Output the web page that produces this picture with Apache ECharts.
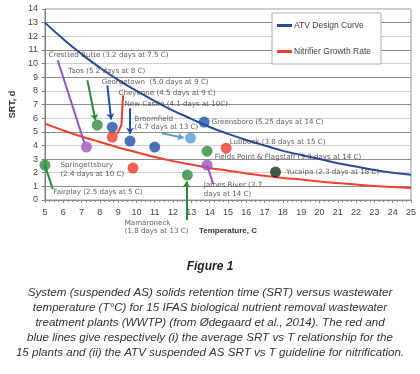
<!DOCTYPE html>
<html>
<head>
<meta charset="utf-8">
<script src="https://cdn.jsdelivr.net/npm/echarts@6/dist/echarts.min.js"></script>
<style>
  html, body { margin: 0; padding: 0; background: #fff; }
  #chart { width: 420px; height: 374px; }
</style>
</head>
<body>
<div id="chart"></div>
<script>
// curves at each whole degree
const temps = [5, 6, 7, 8, 9, 10, 11, 12, 13, 14, 15, 16, 17, 18, 19, 20, 21, 22, 23, 24, 25]
const atvCurve = [13.0, 11.8, 10.7, 9.7, 8.8, 8.0, 7.25, 6.55, 5.95, 5.35, 4.85, 4.4, 4.0, 3.6, 3.3, 3.0, 2.7, 2.45, 2.2, 2.0, 1.85]
const nitrifierCurve = [5.6, 5.1, 4.65, 4.25, 3.85, 3.5, 3.15, 2.85, 2.6, 2.35, 2.15, 1.95, 1.78, 1.62, 1.5, 1.36, 1.24, 1.13, 1.03, 0.95, 0.88]

// plants (temperature, SRT)
const plantNames = ['Fairplay', 'Crested Butte', 'Taos', 'Georgetown', 'Cheyenne', 'New Castle', 'Springettsbury', 'Unlabelled',
  'Broomfield', 'Mamaroneck', 'Greensboro', 'Fields Point & Flagstaff', 'James River', 'Lubbock', 'Yucaipa']
const plantTemp = [5.0, 7.27, 7.86, 8.68, 8.68, 9.65, 9.81, 11.0, 12.95, 12.78, 13.7, 13.86, 13.86, 14.9, 17.6]
const plantSrt = [2.56, 3.88, 5.49, 5.34, 4.61, 4.32, 2.34, 3.88, 4.54, 1.83, 5.71, 3.58, 2.56, 3.8, 2.05]

// annotation texts
const noteTexts = [
  'Crestted Butte (3.2 days at 7.5 C)',
  'Taos (5.2 days at 8 C)',
  'Georgetown  (5.0 days at 9 C)',
  'Cheyenne (4.5 days at 9 C)',
  'New Castle (4.1 days at 10C)',
  'Broomfield\n(4.7 days at 13 C)',
  'Greensboro (5.25 days at 14 C)',
  'Lubbock (3.8 days at 15 C)',
  'Fields Point & Flagstaff (3.3 days at 14 C)',
  'Yucaipa (2.3 days at 18 C)',
  'James River (3.7\ndays at 14 C)',
  'Springettsbury\n(2.4 days at 10 C)',
  'Fairplay (2.5 days at 5 C)',
  'Mamaroneck\n(1.8 days at 13 C)',
]

const seriesNames = ['ATV Design Curve', 'Nitrifier Growth Rate']

const captionTitle = 'Figure 1'
const captionText = 'System (suspended AS) solids retention time (SRT) versus wastewater\n' +
  'temperature (T°C) for 15 IFAS biological nutrient removal wastewater\n' +
  'treatment plants (WWTP) (from Ødegaard et al., 2014). The red and\n' +
  'blue lines give respectively (i) the average SRT vs T relationship for the\n' +
  '15 plants and (ii) the ATV suspended AS SRT vs T guideline for nitrification.'

// ---- layout / style (kept apart from the data) ----
const plantColor = {
  'Fairplay': '#2e8b3e', 'Crested Butte': '#9b55b8', 'Taos': '#2e8b3e', 'Georgetown': '#1f4fa6',
  'Cheyenne': '#f03c2a', 'New Castle': '#1f4fa6', 'Springettsbury': '#f03c2a', 'Unlabelled': '#1f4fa6',
  'Broomfield': '#5b9bd5', 'Mamaroneck': '#2e8b3e', 'Greensboro': '#1f4fa6', 'Fields Point & Flagstaff': '#2e8b3e',
  'James River': '#9b55b8', 'Lubbock': '#f03c2a', 'Yucaipa': '#12301a'
}
// label anchor (left edge, middle) in data units
const notePos = [
  [5.2, 10.61], [6.28, 9.44], [8.1, 8.63], [9.02, 7.83], [9.35, 7.02], [9.9, 5.63],
  [14.12, 5.71], [15.1, 4.24], [14.28, 3.15], [18.18, 2.05], [13.68, 0.75], [5.85, 2.23],
  [5.46, 0.59], [9.36, -1.98]
]
// leader lines with arrow head
const arrows = [
  { c: [[7.32, 8.78], [7.76, 5.85]], color: '#2e8b3e' },
  { c: [[8.41, 8.41], [8.62, 5.9]], color: '#1f4fa6' },
  { c: [[9.65, 6.73], [9.65, 4.85]], color: '#1f4fa6' },
  { c: [[11.38, 4.9], [12.58, 4.56]], color: '#5b9bd5' },
  { c: [[12.73, -1.46], [12.73, 1.35]], color: '#2e8b3e' },
]
// plain leader lines
const leaders = [
  { c: [[5.7, 10.24], [7.16, 4.17]], color: '#9b55b8' },
  { c: [[9.27, 7.68], [9.18, 5.5], [8.95, 4.85]], color: '#f03c2a' },
  { c: [[13.86, 2.56], [14.19, 1.17]], color: '#9b55b8' },
  { c: [[5.0, 2.56], [5.43, 0.8]], color: '#2e8b3e' },
]

const myChart = echarts.init(document.getElementById('chart'))

myChart.setOption({
  animation: false,
  textStyle: { fontFamily: 'Liberation Sans, Arial, sans-serif' },
  grid: {
    left: 40, right: 9, top: 9, bottom: 174,
    show: true, borderColor: '#9a9a9a', borderWidth: 1,
  },
  legend: {
    data: seriesNames,
    orient: 'vertical',
    left: 272, top: 13,
    padding: [8, 10, 8, 5],
    itemGap: 17,
    itemWidth: 15, itemHeight: 3,
    icon: 'rect',
    backgroundColor: '#fff',
    borderColor: '#b0b0b0', borderWidth: 1,
    textStyle: { fontSize: 8.5, color: '#444', padding: [0, 0, 0, -3] },
  },
  xAxis: {
    type: 'value', min: 5, max: 25, interval: 1,
    name: 'Temperature, C', nameLocation: 'middle', nameGap: 27,
    nameTextStyle: { fontSize: 8, fontWeight: 'bold', color: '#333' },
    axisLine: { onZero: false, lineStyle: { color: '#8a8a8a' } },
    axisTick: { length: 3, lineStyle: { color: '#8a8a8a' } },
    minorTick: { show: true, splitNumber: 4, length: 2, lineStyle: { color: '#8a8a8a' } },
    axisLabel: { fontSize: 9, color: '#444', margin: 8 },
    splitLine: { show: false },
  },
  yAxis: {
    type: 'value', min: 0, max: 14, interval: 1,
    name: 'SRT, d', nameLocation: 'middle', nameGap: 27,
    nameTextStyle: { fontSize: 9, fontWeight: 'bold', color: '#333' },
    axisLine: { show: true, lineStyle: { color: '#7a7a7a' } },
    axisTick: { show: true, length: 3, lineStyle: { color: '#7a7a7a' } },
    axisLabel: { fontSize: 9, color: '#444', margin: 7 },
    splitLine: { lineStyle: { color: ['#cfcfcf', '#8c8c8c'], width: 1 } },
  },
  series: [
    {
      name: seriesNames[0], type: 'line', smooth: true, showSymbol: false,
      data: temps.map((t, i) => [t, atvCurve[i]]),
      itemStyle: { color: '#2a4b9c' },
      lineStyle: { color: '#2a4b9c', width: 2 },
      z: 3,
    },
    {
      name: seriesNames[1], type: 'line', smooth: true, showSymbol: false,
      data: temps.map((t, i) => [t, nitrifierCurve[i]]),
      itemStyle: { color: '#f0402c' },
      lineStyle: { color: '#f0402c', width: 2 },
      z: 3,
    },
    {
      type: 'lines', coordinateSystem: 'cartesian2d', polyline: false, clip: false,
      symbol: ['none', 'arrow'], symbolSize: 6, silent: true,
      data: arrows.map((a) => ({ coords: a.c, lineStyle: { color: a.color, width: 2, opacity: 1 } })),
      z: 4,
    },
    {
      type: 'lines', coordinateSystem: 'cartesian2d', polyline: true, clip: false, silent: true,
      data: leaders.map((a) => ({ coords: a.c, lineStyle: { color: a.color, width: 2, opacity: 1 } })),
      z: 4,
    },
    {
      type: 'scatter', symbolSize: 11, z: 5,
      data: plantNames.map((n, i) => ({
        name: n, value: [plantTemp[i], plantSrt[i]], itemStyle: { color: plantColor[n] },
      })),
    },
    {
      type: 'scatter', symbolSize: 0, clip: false, silent: true, z: 6,
      data: noteTexts.map((s, i) => ({ name: s, value: notePos[i] })),
      label: {
        show: true, position: 'right', distance: 0,
        formatter: (p) => p.name,
        fontFamily: 'DejaVu Sans', fontSize: 7.1, color: '#333', lineHeight: 8.5, align: 'left',
      },
    },
  ],
  graphic: [
    {
      type: 'text', left: 'center', top: 261,
      style: { text: captionTitle, font: 'italic bold 12px Liberation Sans', fill: '#222' },
    },
    {
      type: 'text', left: 'center', top: 285,
      style: {
        text: captionText, font: 'italic 11.6px Liberation Sans', fill: '#333',
        lineHeight: 15, textAlign: 'center',
      },
    },
  ],
})
</script>
</body>
</html>
